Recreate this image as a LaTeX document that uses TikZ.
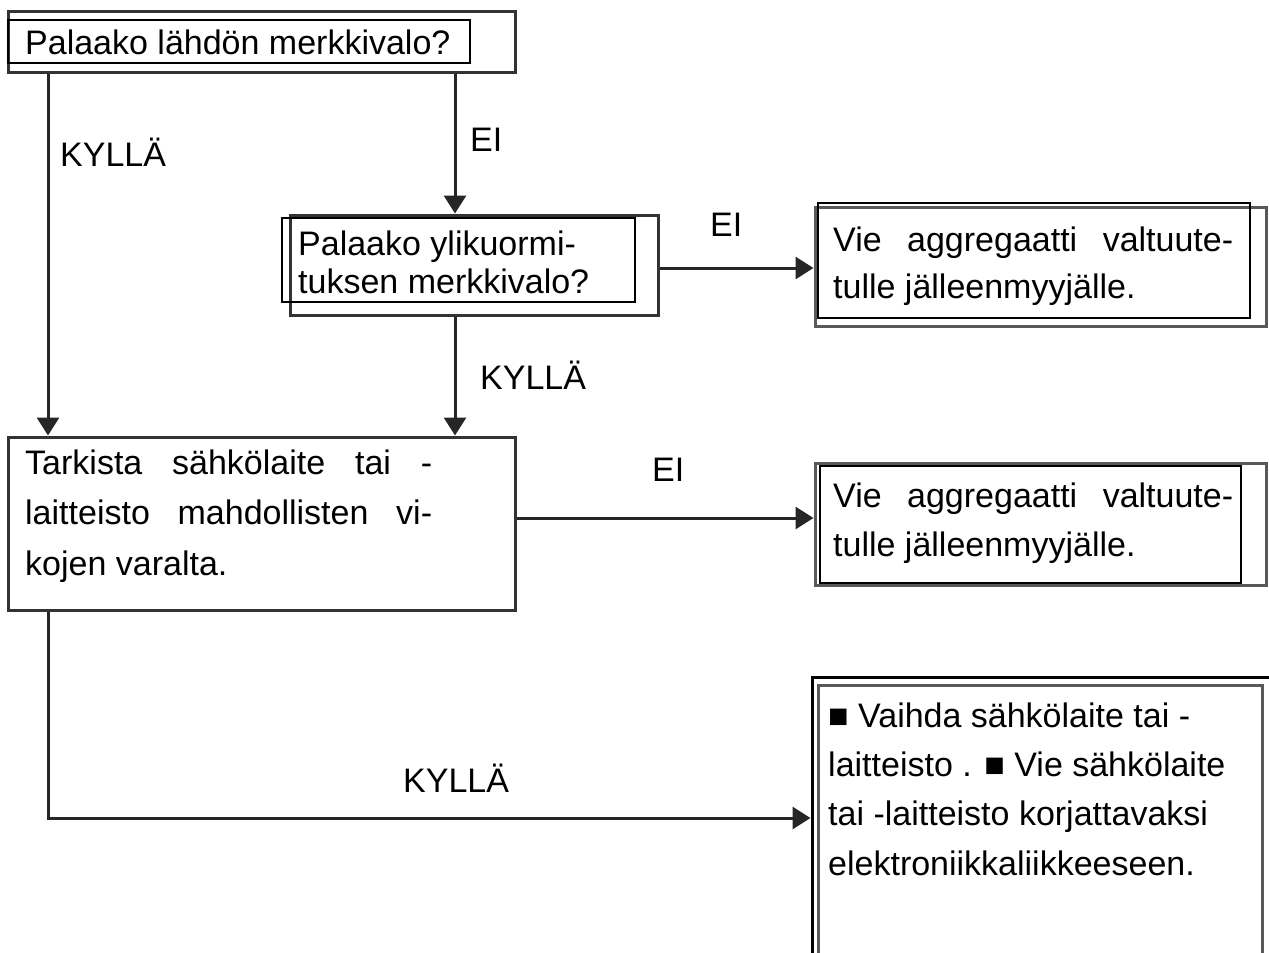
\documentclass[tikz,border=0pt]{standalone}
\usepackage{fontspec}
\setmainfont{Liberation Sans}
\usetikzlibrary{arrows.meta}
\newcommand{\sqbullet}{{\fontsize{34}{34}\selectfont ■}}
\begin{document}
\begin{tikzpicture}[x=1pt,y=-1pt,
  outerbox/.style={draw=black!80, line width=3pt, inner sep=0pt},
  innerbox/.style={draw=black, line width=2.2pt, inner sep=0pt},
  greybox/.style={draw=black!65, line width=3pt, inner sep=0pt},
  txt/.style={inner sep=0pt, anchor=west, align=left, font=\fontsize{34}{48}\selectfont},
  lbl/.style={inner sep=0pt, anchor=west, font=\fontsize{34}{40}\selectfont},
  conn/.style={draw=black!85, line width=3pt},
  arr/.style={conn, -{Triangle[length=18pt,width=22pt]}}]
\useasboundingbox (0,0) rectangle (1269,953);
\fill[white] (0,0) rectangle (1269,953);
% box A
\node[outerbox, minimum width=507pt, minimum height=61pt] (A) at (261.5,41.5) {};
\node[innerbox, minimum width=462pt, minimum height=43pt] (Ai) at (239,41.5) {};
\node[txt] (At) at (25,42) {Palaako lähdön merkkivalo?};
% box B
\node[outerbox, minimum width=368pt, minimum height=100pt] (B) at (474,265) {};
\node[innerbox, minimum width=353pt, minimum height=84pt] (Bi) at (458.5,260) {};
\node[txt, font=\fontsize{34}{38}\selectfont] (Bt) at (298,262) {Palaako ylikuormi-\\tuksen merkkivalo?};
% box D
\node[greybox, minimum width=451pt, minimum height=119pt] (D) at (1040.5,266.5) {};
\node[innerbox, minimum width=432pt, minimum height=115pt] (Di) at (1034,260.5) {};
\node[txt, font=\fontsize{34}{47}\selectfont] (Dt) at (833,266) {\makebox[400pt][s]{Vie aggregaatti valtuute-}\\tulle jälleenmyyjälle.};
% box C
\node[outerbox, minimum width=507pt, minimum height=173pt] (C) at (261.5,523.5) {};
\node[txt, font=\fontsize{34}{50.5}\selectfont] (Ct) at (25,516) {\makebox[407pt][s]{Tarkista sähkölaite tai -}\\\makebox[407pt][s]{laitteisto mahdollisten vi-}\\kojen varalta.};
% box E
\node[greybox, minimum width=451pt, minimum height=122pt] (E) at (1040.5,524) {};
\node[innerbox, minimum width=421pt, minimum height=117pt] (Ei) at (1030.5,524.5) {};
\node[txt, font=\fontsize{34}{49}\selectfont] (Et) at (833,523) {\makebox[400pt][s]{Vie aggregaatti valtuute-}\\tulle jälleenmyyjälle.};
% box F
\node[innerbox, line width=3pt, minimum width=462pt, minimum height=290pt] (F) at (1043,822) {};
\node[greybox, minimum width=444pt, minimum height=280pt] (Fi) at (1040,825) {};
\node[txt, font=\fontsize{34}{49.3}\selectfont] (Ft) at (828,789) {\sqbullet{} Vaihda sähkölaite tai -\\laitteisto . \sqbullet{} Vie sähkölaite\\tai -laitteisto korjattavaksi\\elektroniikkaliikkeeseen.};
% guide coordinates
\coordinate (xL) at (48,0);
\coordinate (xM) at (455,0);
\coordinate (yB) at (0,268);
\coordinate (yC) at (0,518);
\coordinate (bend) at (48,818);
% connectors
\draw[arr] (A.south -| xL) -- (C.north -| xL);
\draw[arr] (A.south -| xM) -- (B.north -| xM);
\draw[arr] (B.east |- yB) -- (D.west |- yB);
\draw[arr] (B.south -| xM) -- (C.north -| xM);
\draw[arr] (C.east |- yC) -- (E.west |- yC);
\draw[arr] (C.south -| xL) -- (bend) -- (bend -| F.west);
% labels
\node[lbl] (l1) at (60,152) {KYLLÄ};
\node[lbl] (l2) at (470,140) {EI};
\node[lbl] (l3) at (710,225) {EI};
\node[lbl] (l4) at (480,375) {KYLLÄ};
\node[lbl] (l5) at (652,470) {EI};
\node[lbl] (l6) at (403,778) {KYLLÄ};
\end{tikzpicture}
\end{document}
